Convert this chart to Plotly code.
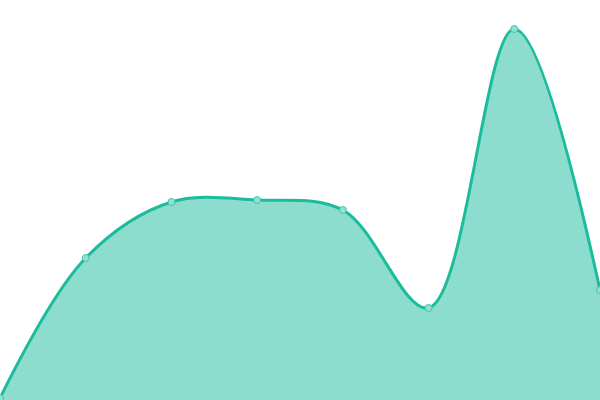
import plotly.graph_objects as go

categories = [0, 1, 2, 3, 4, 5, 6, 7]
values = [2, 142, 198, 200, 190, 92, 371, 110]

fig = go.Figure()
fig.add_trace(go.Scatter(
    x=categories, y=values,
    mode="lines+markers",
    line=dict(shape="spline", smoothing=1.0, color="#1abc9c", width=3),
    fill="tozeroy",
    fillcolor="rgba(26,188,156,0.5)",
    marker=dict(size=7, color="#8fe2d1", line=dict(color="#3fc6a8", width=1)),
    hoverinfo="skip",
))
fig.update_layout(
    width=600, height=400,
    margin=dict(l=0, r=0, t=0, b=0),
    paper_bgcolor="white", plot_bgcolor="white",
    showlegend=False,
    xaxis=dict(range=[0, 7], visible=False, fixedrange=True),
    yaxis=dict(range=[0, 400], visible=False, fixedrange=True),
)
fig.write_html(
    "out.html",
    config={"displayModeBar": False},
    post_script="document.body.style.margin='0';document.body.style.overflow='hidden';",
)
